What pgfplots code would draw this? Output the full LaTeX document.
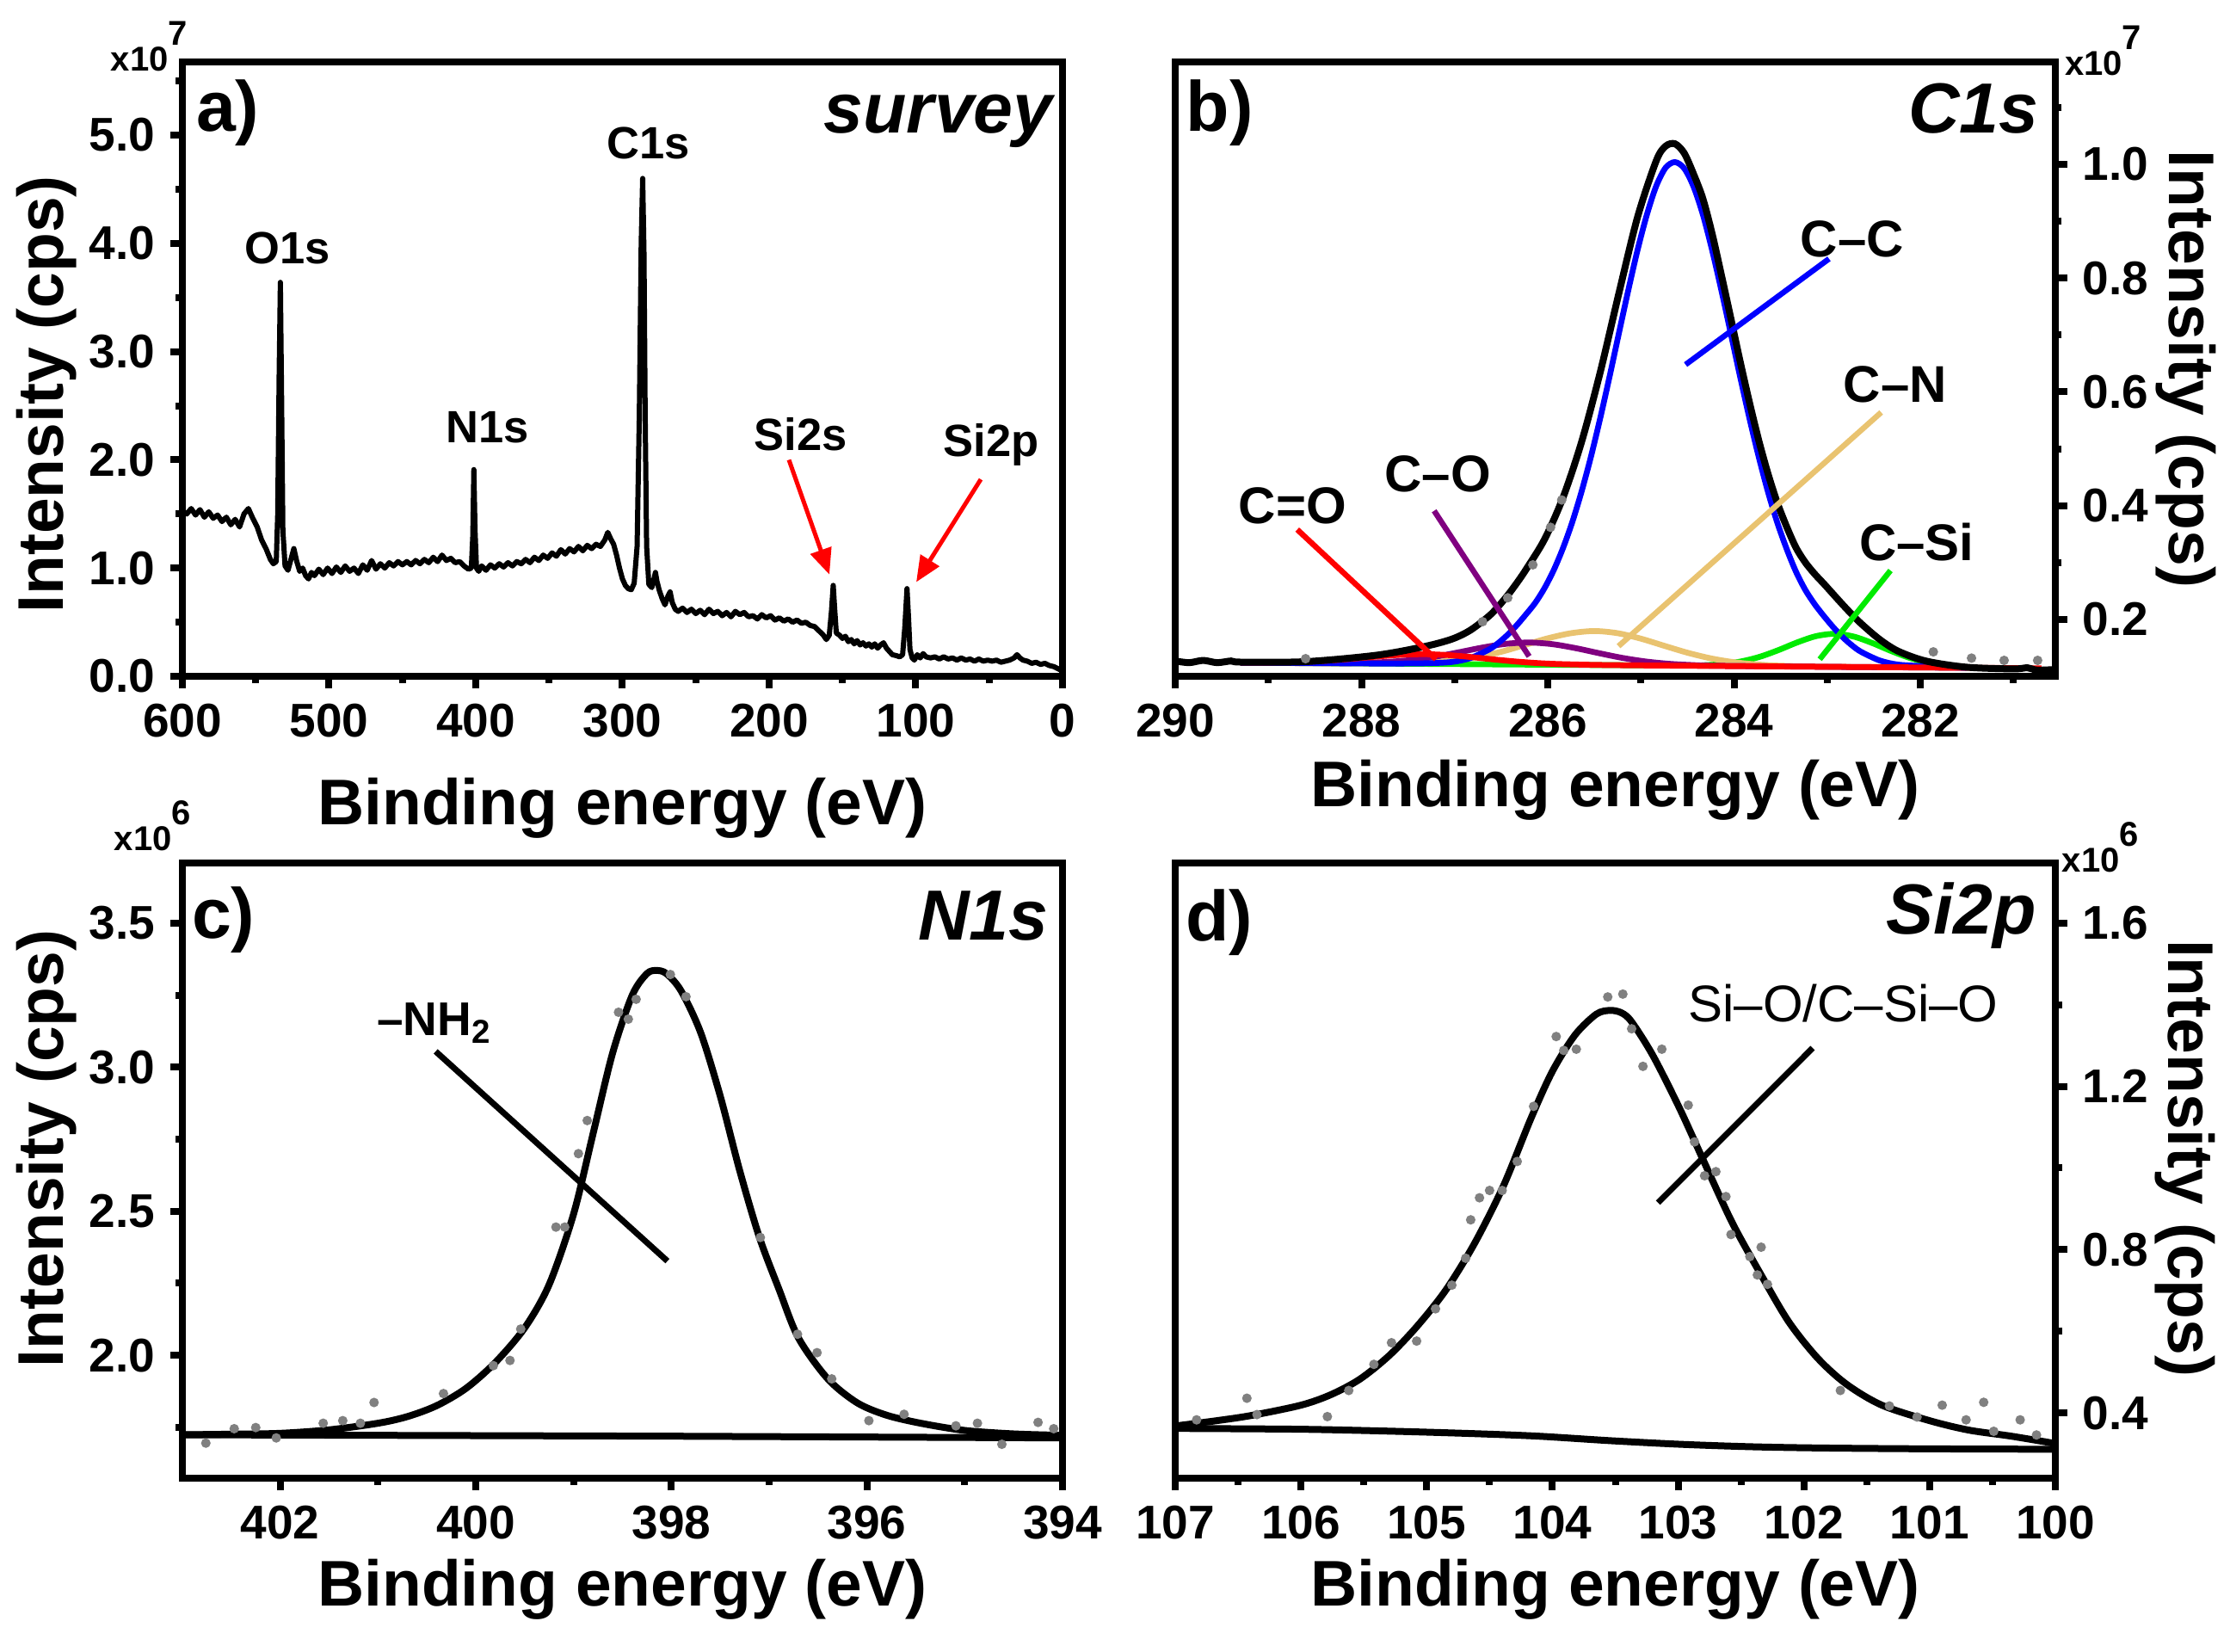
\documentclass[border=0pt]{standalone}
\usepackage{fontspec}
\setmainfont{Liberation Sans}
\usepackage{pgfplots}
\pgfplotsset{compat=1.18}
\usetikzlibrary{arrows.meta}
\definecolor{cntan}{RGB}{233,195,112}
\definecolor{copurple}{RGB}{128,0,128}
\definecolor{dotgray}{RGB}{128,128,128}
\definecolor{cgreen}{RGB}{0,235,0}
\pgfplotsset{
 xps/.style={
  scale only axis, width=204.6pt, height=142.8pt, anchor=south west, clip=false,
  axis line style={line width=1.6pt},
  tick align=outside,
  major tick length=2.8pt, minor tick length=1.5pt,
  every tick/.style={black, line width=1.6pt},
  tick label style={font=\bfseries\fontsize{11}{13}\selectfont},
  /pgf/number format/assume math mode=true,
  xtick pos=bottom,
  scaled ticks=false,
  label style={font=\bfseries\fontsize{15}{18}\selectfont},
  xlabel={Binding energy (eV)},
  ylabel={Intensity (cps)},
  x dir=reverse,
  yticklabel style={/pgf/number format/.cd,fixed,fixed zerofill,precision=1},
 },
 dots/.style={only marks, mark=*, mark size=0.9pt, color=dotgray, mark options={draw=dotgray, fill=dotgray}},
}
\tikzset{
 plab/.style={font=\bfseries\fontsize{16.5}{18}\selectfont, anchor=base west, inner sep=0pt},
 ptit/.style={font=\bfseries\itshape\fontsize{16.5}{18}\selectfont, anchor=base east, inner sep=0pt},
 mult/.style={font=\bfseries\fontsize{8}{9}\selectfont, anchor=base west, inner sep=0pt},
}
\begin{document}
\begin{tikzpicture}
\path[use as bounding box] (0pt,0pt) rectangle (518.4pt,-383.8pt);

% ---------------- a) survey
\begin{axis}[xps, at={(42.4pt,-157.2pt)},
 xmin=0, xmax=600, ymin=0, ymax=5.676,
 xtick={0,100,200,300,400,500,600}, minor xtick={50,150,250,350,450,550},
 ytick={0,1,2,3,4,5}, minor ytick={0.5,1.5,2.5,3.5,4.5,5.5}, ytick pos=left,
 xlabel style={at={(axis description cs:0.5,-0.241)}, anchor=base},
 ylabel style={at={(axis description cs:-0.1545,0.459)}, anchor=center},
]
\addplot[black, line width=1.2pt, line join=round] table {
600 1.53
597 1.50
594 1.55
591 1.49
588 1.54
585 1.47
582 1.52
579 1.46
576 1.49
573 1.43
570 1.47
567 1.40
564 1.45
561 1.38
558 1.50
555 1.55
552 1.46
549 1.38
546 1.26
543 1.18
540 1.08
538 1.04
536 1.06
535 1.50
534 2.80
533.2 3.64
532.4 2.60
531.5 1.35
530 1.02
528 0.98
526 1.08
524 1.18
522 1.06
520 0.97
518 1.00
516 0.93
514 0.90
512 0.96
510 0.93
507 0.99
504 0.94
501 1.00
498 0.95
495 1.01
492 0.96
489 1.02
486 0.97
483 1.00
480 0.95
477 1.03
474 0.98
471 1.07
468 0.99
465 1.04
462 1.00
459 1.05
456 1.02
453 1.06
450 1.03
447 1.06
444 1.03
441 1.07
438 1.04
435 1.08
432 1.05
429 1.10
426 1.06
423 1.12
420 1.07
417 1.09
414 1.05
411 1.06
408 1.02
405 0.99
403 1.00
402 1.30
401.3 1.91
400.5 1.35
399.5 1.00
398 0.97
396 1.02
393 0.98
390 1.03
387 1.00
384 1.04
381 1.01
378 1.05
375 1.02
372 1.06
369 1.04
366 1.08
363 1.05
360 1.10
357 1.07
354 1.12
351 1.09
348 1.14
345 1.11
342 1.17
339 1.13
336 1.18
333 1.15
330 1.20
327 1.16
324 1.21
321 1.18
318 1.22
315 1.20
312 1.26
310 1.33
308 1.27
306 1.22
304 1.12
302 1.00
300 0.90
298 0.84
296 0.81
294 0.80
292 0.86
290 1.20
288.5 2.40
287.2 4.00
286.2 4.60
285.3 3.90
284.5 2.40
283.5 1.20
282 0.85
280 0.82
278.5 0.90
277.5 0.96
276.5 0.88
275 0.80
273 0.72
271 0.66
269 0.74
267.5 0.78
266 0.68
264 0.62
262 0.60
259 0.63
256 0.59
253 0.62
250 0.58
247 0.61
244 0.57
241 0.62
238 0.58
235 0.60
232 0.56
229 0.59
226 0.55
223 0.60
220 0.57
217 0.59
214 0.55
211 0.56
208 0.53
205 0.57
202 0.54
199 0.56
196 0.52
193 0.54
190 0.51
187 0.53
184 0.50
181 0.52
178 0.49
175 0.50
172 0.47
169 0.46
166 0.42
163 0.38
161 0.34
159 0.38
157.5 0.60
156.3 0.84
155.3 0.62
154.2 0.40
152 0.38
150 0.35
148 0.37
146 0.32
144 0.34
142 0.30
140 0.33
138 0.29
136 0.31
134 0.28
132 0.30
130 0.27
128 0.30
126 0.26
124 0.29
122 0.31
120 0.26
118 0.23
116 0.20
113 0.19
111 0.18
109 0.20
107.5 0.45
106 0.81
105 0.55
104 0.25
102.5 0.17
101 0.15
99 0.20
97 0.17
95 0.21
93 0.18
90 0.17
87 0.18
84 0.16
81 0.18
78 0.16
75 0.17
72 0.15
69 0.17
66 0.15
63 0.16
60 0.14
57 0.16
54 0.14
51 0.15
48 0.14
45 0.15
42 0.13
39 0.14
36 0.15
33 0.17
31 0.20
29 0.17
27 0.15
24 0.14
21 0.12
18 0.13
15 0.11
12 0.12
9 0.10
6 0.09
3 0.07
0 0.05
};
\node[font=\bfseries\fontsize{10.5}{12}\selectfont, anchor=base] at (axis cs:528.4,3.81) {O1s};
\node[font=\bfseries\fontsize{10.5}{12}\selectfont, anchor=base] at (axis cs:391.8,2.16) {N1s};
\node[font=\bfseries\fontsize{10.5}{12}\selectfont, anchor=base] at (axis cs:282.1,4.78) {C1s};
\node[font=\bfseries\fontsize{10.5}{12}\selectfont, anchor=base] at (axis cs:178.3,2.09) {Si2s};
\node[font=\bfseries\fontsize{10.5}{12}\selectfont, anchor=base] at (axis cs:48.7,2.03) {Si2p};
\draw[red, line width=1pt, -{Triangle[length=6pt,width=5pt]}] (axis cs:186.5,2.0) -- (axis cs:158.9,0.94);
\draw[red, line width=1pt, -{Triangle[length=6pt,width=5pt]}] (axis cs:55.7,1.82) -- (axis cs:99.7,0.87);
\node[plab] at (axis description cs:0.0147,0.8866) {a)};
\node[ptit] at (axis description cs:0.990,0.884) {survey};
\node[mult] at (axis description cs:-0.0821,0.986) {x10\raisebox{6pt}{7}};
\end{axis}

% ---------------- b) C1s
\begin{axis}[xps, at={(273.2pt,-157.2pt)},
 xmin=280.55, xmax=290, ymin=0.1, ymax=1.18,
 xtick={282,284,286,288,290}, minor xtick={281,283,285,287,289},
 ytick={0.2,0.4,0.6,0.8,1.0}, minor ytick={0.3,0.5,0.7,0.9,1.1},
 ytick pos=right, yticklabel pos=right,
 xlabel style={at={(axis description cs:0.5,-0.2115)}, anchor=base},
 ylabel style={at={(axis description cs:1.1487,0.5)}, anchor=center, rotate=180},
]
\addplot[dots] table {
288.6 0.131
286.70 0.196
286.43 0.238
286.16 0.296
285.97 0.362
285.85 0.410
281.86 0.143
281.45 0.132
281.10 0.128
280.74 0.128
};
\addplot[cgreen, line width=1.35pt, smooth] table {
289.3 0.124
286.0 0.1204
284.52 0.1189
284.32 0.1195
284.12 0.1216
283.92 0.1263
283.72 0.1345
283.52 0.1463
283.32 0.1597
283.12 0.1706
282.92 0.1747
282.72 0.1701
282.52 0.1588
282.32 0.1450
282.12 0.1327
281.92 0.1240
281.72 0.1189
281.52 0.1164
};
\addplot[cntan, line width=1.35pt, smooth] table {
289.3 0.1240
288.5 0.1230
288.0 0.1227
287.5 0.1235
287.25 0.1249
287.0 0.1282
286.75 0.1343
286.5 0.1431
286.25 0.1549
286.0 0.1668
285.75 0.1758
285.5 0.1796
285.25 0.1758
285.0 0.1662
284.75 0.1537
284.5 0.1415
284.25 0.1316
284.0 0.1248
283.75 0.1208
283.5 0.1186
283.0 0.1169
282.0 0.1156
281.5 0.1150
};
\addplot[copurple, line width=1.35pt, smooth] table {
289.3 0.1240
288.7 0.1233
288.2 0.1232
287.95 0.1238
287.7 0.1255
287.45 0.1290
287.2 0.1347
286.95 0.1424
286.7 0.1506
286.45 0.1571
286.2 0.1594
285.95 0.1565
285.7 0.1495
285.45 0.1407
285.2 0.1324
284.95 0.1261
284.7 0.1220
284.45 0.1198
284.2 0.1186
283.0 0.1167
281.5 0.1150
};
\addplot[blue, line width=1.35pt, smooth] table {
289.3 0.1240
288.6 0.1234
287.84 0.1225
287.335 0.1229
287.035 0.1251
286.835 0.1319
286.635 0.1467
286.535 0.1581
286.435 0.1724
286.335 0.1894
286.235 0.2087
286.135 0.2290
286.035 0.2550
285.935 0.2870
285.835 0.3260
285.735 0.3720
285.635 0.4260
285.535 0.4870
285.435 0.5550
285.335 0.6280
285.235 0.7040
285.135 0.7790
285.035 0.8500
284.935 0.9120
284.835 0.9620
284.735 0.9940
284.635 1.0040
284.535 0.9930
284.435 0.9610
284.335 0.9120
284.235 0.8490
284.135 0.7780
284.035 0.7030
283.935 0.6270
283.835 0.5540
283.735 0.4860
283.635 0.4240
283.535 0.3700
283.435 0.3240
283.335 0.2840
283.235 0.2520
283.135 0.2270
283.035 0.2059
282.935 0.1864
282.835 0.1691
282.735 0.1546
282.635 0.1430
282.435 0.1278
282.235 0.1205
281.935 0.1177
281.5 0.1150
};
\addplot[red, line width=1.35pt, smooth] table {
289.3 0.1241
288.82 0.1247
288.57 0.1258
288.32 0.1280
288.07 0.1312
287.82 0.1350
287.57 0.1379
287.32 0.1389
287.07 0.1373
286.82 0.1338
286.57 0.1295
286.32 0.1257
286.07 0.1229
285.82 0.1213
285.32 0.1197
284.0 0.1179
282.0 0.1156
280.7 0.1141
};
\addplot[black, line width=1.6pt, smooth] table {
290.0 0.127
289.85 0.124
289.7 0.128
289.55 0.124
289.4 0.127
289.3 0.125
288.6 0.1258
287.84 0.1371
287.335 0.1520
287.035 0.1651
286.835 0.1807
286.635 0.2054
286.535 0.2221
286.435 0.2415
286.335 0.2634
286.235 0.2874
286.035 0.3407
285.835 0.4148
285.635 0.5131
285.435 0.6357
285.235 0.7743
285.035 0.9078
284.835 1.0064
284.735 1.0320
284.635 1.0362
284.535 1.0198
284.435 0.9832
284.335 0.9400
284.235 0.8780
284.135 0.8050
284.035 0.7300
283.935 0.6540
283.835 0.5820
283.735 0.5150
283.635 0.4560
283.535 0.4050
283.435 0.3630
283.335 0.3263
283.235 0.3003
283.135 0.2801
283.035 0.2626
282.935 0.2444
282.835 0.2263
282.735 0.2089
282.635 0.1926
282.435 0.1647
282.235 0.1440
281.935 0.1267
281.5 0.1160
281.0 0.1130
280.85 0.1150
280.75 0.1110
280.55 0.1120
};
\draw[blue, line width=1.3pt] (axis cs:282.98,0.834) -- (axis cs:284.52,0.648);
\draw[cntan, line width=1.3pt] (axis cs:282.42,0.564) -- (axis cs:285.24,0.153);
\draw[cgreen, line width=1.3pt] (axis cs:282.32,0.286) -- (axis cs:283.08,0.130);
\draw[copurple, line width=1.3pt] (axis cs:287.22,0.391) -- (axis cs:286.2,0.135);
\draw[red, line width=1.3pt] (axis cs:288.69,0.358) -- (axis cs:287.2,0.130);
\node[font=\bfseries\fontsize{12}{14}\selectfont, anchor=base] at (axis cs:282.73,0.838) {C–C};
\node[font=\bfseries\fontsize{12}{14}\selectfont, anchor=base] at (axis cs:282.27,0.582) {C–N};
\node[font=\bfseries\fontsize{12}{14}\selectfont, anchor=base] at (axis cs:282.04,0.303) {C–Si};
\node[font=\bfseries\fontsize{12}{14}\selectfont, anchor=base] at (axis cs:287.18,0.424) {C–O};
\node[font=\bfseries\fontsize{12}{14}\selectfont, anchor=base] at (axis cs:288.74,0.368) {C=O};
\node[plab] at (axis description cs:0.0117,0.8866) {b)};
\node[ptit] at (axis description cs:0.982,0.884) {C1s};
\node[mult] at (axis description cs:1.0098,0.979) {x10\raisebox{6pt}{7}};
\end{axis}

% ---------------- c) N1s
\begin{axis}[xps, at={(42.4pt,-343.6pt)}, height=143pt,
 xmin=394, xmax=403, ymin=1.573, ymax=3.709,
 xtick={394,396,398,400,402}, minor xtick={395,397,399,401},
 ytick={2.0,2.5,3.0,3.5}, minor ytick={1.75,2.25,2.75,3.25}, ytick pos=left,
 xlabel style={at={(axis description cs:0.5,-0.207)}, anchor=base},
 ylabel style={at={(axis description cs:-0.1545,0.536)}, anchor=center},
]
\addplot[dots] table {
402.76 1.695
402.47 1.745
402.25 1.749
402.04 1.713
401.56 1.764
401.36 1.773
401.18 1.764
401.04 1.836
400.33 1.867
399.82 1.964
399.65 1.982
399.54 2.091
399.18 2.445
399.09 2.445
398.95 2.700
398.86 2.815
398.54 3.191
398.44 3.167
398.36 3.236
398.01 3.322
397.85 3.245
397.09 2.409
396.71 2.073
396.51 2.009
396.36 1.918
395.98 1.773
395.62 1.795
395.09 1.755
394.87 1.764
394.62 1.691
394.25 1.767
394.09 1.745
};
\addplot[black, line width=1.6pt] table {
403.0 1.724
398.0 1.719
394.0 1.713
};
\addplot[black, line width=1.6pt, smooth] table {
403.0 1.724
402.5 1.726
402.0 1.729
401.5 1.741
401.0 1.764
400.7 1.787
400.4 1.825
400.1 1.885
399.8 1.975
399.5 2.095
399.25 2.245
399.0 2.49
398.8 2.77
398.6 3.05
398.4 3.25
398.25 3.325
398.15 3.336
398.05 3.325
397.9 3.265
397.7 3.12
397.5 2.90
397.3 2.64
397.1 2.41
396.9 2.23
396.7 2.06
396.4 1.918
396.1 1.835
395.8 1.792
395.45 1.764
395.0 1.739
394.5 1.727
394.0 1.722
};
\draw[black, line width=1.4pt] (axis cs:400.41,3.055) -- (axis cs:398.04,2.327);
\node[font=\bfseries\fontsize{11}{13}\selectfont, anchor=base west, inner sep=0pt] at (axis cs:401.02,3.109) {–NH\textsubscript{2}};
\node[plab] at (axis description cs:0.0098,0.878) {c)};
\node[ptit] at (axis description cs:0.985,0.8755) {N1s};
\node[mult] at (axis description cs:-0.0782,1.021) {x10\raisebox{6pt}{6}};
\end{axis}

% ---------------- d) Si2p
\begin{axis}[xps, at={(273.2pt,-343.6pt)}, height=143pt,
 xmin=100, xmax=107, ymin=0.240, ymax=1.747,
 xtick={100,101,102,103,104,105,106,107}, minor xtick={100.5,101.5,102.5,103.5,104.5,105.5,106.5},
 ytick={0.4,0.8,1.2,1.6}, minor ytick={0.6,1.0,1.4},
 ytick pos=right, yticklabel pos=right,
 xlabel style={at={(axis description cs:0.5,-0.207)}, anchor=base},
 ylabel style={at={(axis description cs:1.1475,0.52)}, anchor=center, rotate=180},
]
\addplot[dots] table {
106.83 0.383
106.43 0.436
106.35 0.396
105.79 0.391
105.62 0.455
105.42 0.519
105.28 0.572
105.08 0.576
104.93 0.655
104.80 0.713
104.69 0.779
104.65 0.873
104.58 0.927
104.50 0.945
104.40 0.945
104.28 1.016
104.15 1.151
103.97 1.322
103.91 1.288
103.81 1.291
103.56 1.419
103.44 1.426
103.37 1.341
103.28 1.249
103.13 1.291
102.92 1.154
102.87 1.064
102.79 0.981
102.70 0.991
102.62 0.930
102.58 0.837
102.43 0.783
102.37 0.738
102.34 0.806
102.29 0.715
101.71 0.455
101.32 0.417
101.10 0.390
100.90 0.419
100.71 0.383
100.57 0.426
100.49 0.355
100.28 0.383
100.15 0.346
};
\addplot[black, line width=1.6pt, smooth] table {
107.0 0.362
106.0 0.360
105.25 0.355
104.6 0.349
104.11 0.343
103.54 0.332
102.97 0.323
102.4 0.317
101.83 0.314
101.0 0.312
100.0 0.311
};
\addplot[black, line width=1.6pt, smooth] table {
107.0 0.368
106.67 0.381
106.39 0.394
106.0 0.419
105.76 0.445
105.53 0.483
105.30 0.540
105.08 0.611
104.85 0.700
104.62 0.815
104.39 0.956
104.17 1.122
104.0 1.237
103.82 1.326
103.65 1.377
103.54 1.386
103.45 1.380
103.37 1.358
103.20 1.275
102.99 1.147
102.80 1.019
102.57 0.866
102.34 0.738
102.12 0.623
101.89 0.534
101.66 0.470
101.38 0.419
101.0 0.381
100.69 0.358
100.35 0.343
100.0 0.325
};
\draw[black, line width=1.4pt] (axis cs:101.93,1.294) -- (axis cs:103.16,0.915);
\node[font=\fontsize{12}{14}\selectfont, anchor=base west, inner sep=0pt] at (axis cs:102.925,1.358) {Si–O/C–Si–O};
\node[plab] at (axis description cs:0.011,0.874) {d)};
\node[ptit] at (axis description cs:0.979,0.884) {Si2p};
\node[mult] at (axis description cs:1.0068,0.986) {x10\raisebox{6pt}{6}};
\end{axis}
\end{tikzpicture}
\end{document}
